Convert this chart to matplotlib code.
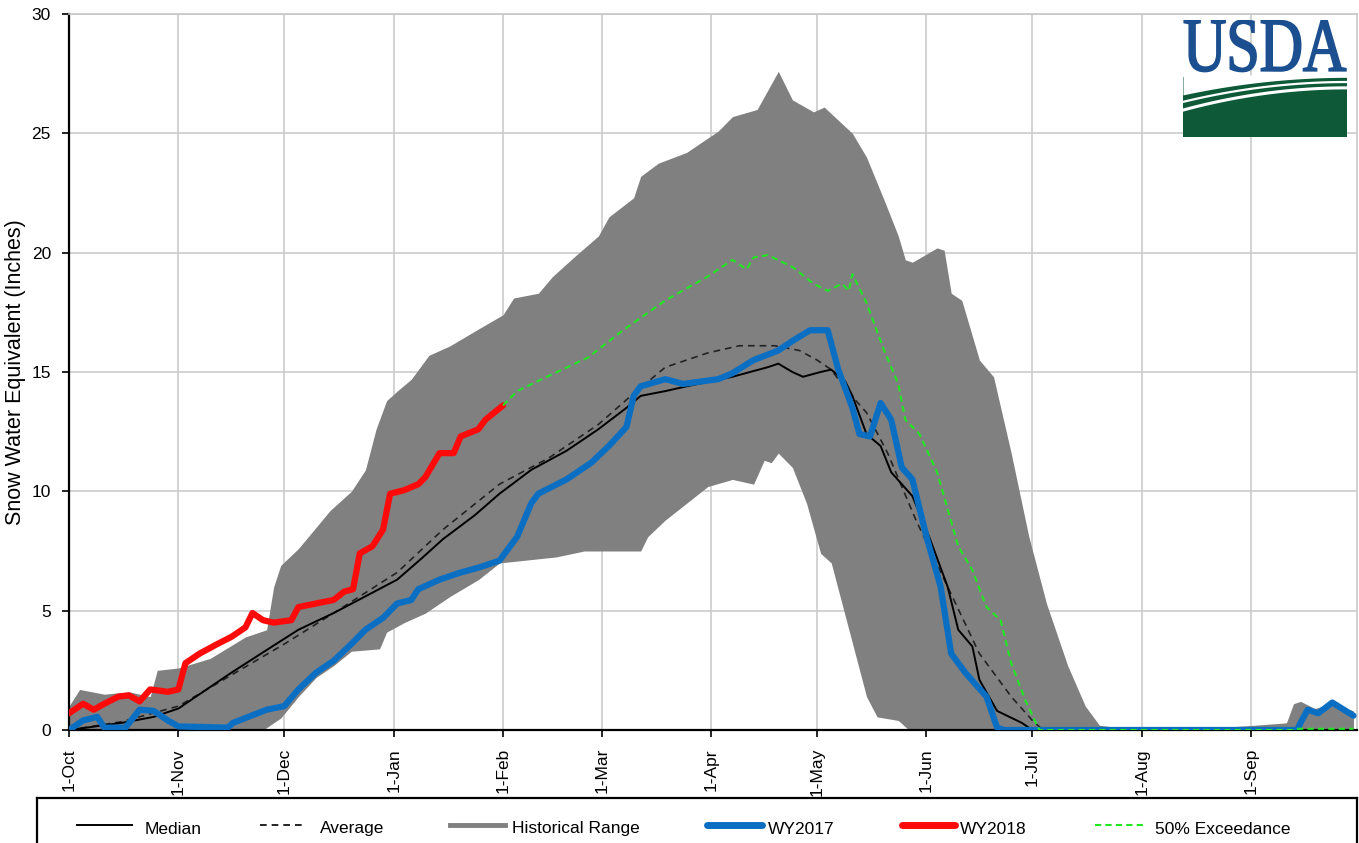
import numpy as np
import matplotlib
matplotlib.use("Agg")
import matplotlib.pyplot as plt
from matplotlib.textpath import TextPath
from matplotlib.patches import PathPatch, Rectangle
from matplotlib.font_manager import FontProperties
from matplotlib.transforms import Affine2D

plt.rcParams['font.family'] = ['Liberation Sans', 'DejaVu Sans']

# day 0 = 1-Oct, water year of 365 days
month_days = [0, 31, 61, 92, 123, 151, 182, 212, 243, 273, 304, 335]
month_labels = ['1-Oct', '1-Nov', '1-Dec', '1-Jan', '1-Feb', '1-Mar',
                '1-Apr', '1-May', '1-Jun', '1-Jul', '1-Aug', '1-Sep']

# historical range, upper edge
hi_days = [0, 3, 10, 17, 23, 25, 31, 40, 50, 56, 58, 60, 65, 74, 80, 84, 87, 90,
           93, 97, 102, 108, 116, 123, 126, 133, 137, 143, 150, 153, 160, 162,
           167, 175, 184, 188, 195, 201, 205, 211, 214, 222, 226, 231, 235, 237,
           239, 246, 248, 250, 253, 258, 262, 267, 272, 277, 283, 288, 292, 300,
           320, 336, 345, 347, 349, 353, 358, 364]
hi_vals = [1.0, 1.7, 1.5, 1.6, 1.4, 2.5, 2.6, 3.0, 3.9, 4.2, 6.0, 6.9, 7.6, 9.2,
           10.0, 10.9, 12.6, 13.8, 14.2, 14.7, 15.7, 16.1, 16.8, 17.4, 18.1,
           18.3, 19.0, 19.8, 20.7, 21.5, 22.3, 23.2, 23.75, 24.2, 25.1, 25.7,
           26.0, 27.6, 26.4, 25.9, 26.1, 25.0, 24.0, 22.2, 20.7, 19.7, 19.6,
           20.2, 20.1, 18.3, 18.0, 15.5, 14.8, 11.6, 8.1, 5.3, 2.7, 1.0, 0.2,
           0.05, 0.05, 0.2, 0.3, 1.1, 1.2, 0.9, 1.1, 0.8]

# historical range, lower edge
lo_days = [0, 55, 60, 65, 70, 75, 80, 88, 90, 95, 101, 108, 116, 122, 138, 146,
           162, 164, 169, 175, 181, 188, 194, 197, 199, 201, 205, 209, 213, 216,
           221, 226, 229, 235, 238, 364]
lo_vals = [0.0, 0.0, 0.5, 1.4, 2.2, 2.7, 3.3, 3.4, 4.1, 4.5, 4.9, 5.6, 6.3, 7.0,
           7.25, 7.5, 7.5, 8.1, 8.8, 9.5, 10.2, 10.5, 10.3, 11.3, 11.2, 11.6,
           11.0, 9.5, 7.4, 7.0, 4.2, 1.4, 0.55, 0.4, 0.0, 0.0]

median_days = [0, 15, 24, 31, 37, 46, 56, 65, 75, 84, 93, 100, 106, 115, 122,
               131, 141, 150, 158, 162, 169, 175, 188, 198, 201, 205, 208, 213,
               216, 220, 222, 226, 230, 233, 239, 244, 249, 252, 256, 258, 263,
               270, 273]
median_vals = [0.0, 0.3, 0.55, 0.9, 1.5, 2.4, 3.35, 4.2, 4.9, 5.6, 6.3, 7.2,
               8.0, 9.0, 9.9, 10.9, 11.7, 12.6, 13.5, 14.0, 14.2, 14.4, 14.8,
               15.2, 15.35, 15.0, 14.8, 15.0, 15.1, 14.6, 14.0, 12.4, 11.9,
               10.8, 9.8, 8.0, 6.0, 4.2, 3.5, 2.1, 0.8, 0.3, 0.0]

average_days = [0, 15, 31, 46, 61, 75, 93, 106, 122, 136, 150, 160, 169, 181,
                190, 200, 207, 212, 216, 220, 226, 232, 240, 249, 258, 267, 273,
                276]
average_vals = [0.0, 0.35, 1.0, 2.3, 3.6, 4.9, 6.6, 8.4, 10.3, 11.4, 12.8,
                14.1, 15.2, 15.8, 16.1, 16.1, 15.9, 15.5, 15.1, 14.3, 13.3, 11.6,
                8.8, 6.0, 3.2, 1.4, 0.4, 0.0]

wy2017_days = [0, 4, 8, 10, 16, 20, 24, 28, 31, 45, 46.5, 56, 61, 65, 70, 75,
               80, 84, 89, 93, 97, 99, 105, 111, 116, 122, 127, 131, 133, 141,
               148, 153, 158, 160, 162, 169, 174, 184, 188, 194, 201, 205, 210,
               215, 218, 222, 224, 227, 230, 233, 236, 239, 243, 247, 250, 254,
               260, 263, 265, 348, 349, 351, 354, 358, 364]
wy2017_vals = [0.0, 0.4, 0.55, 0.1, 0.1, 0.85, 0.8, 0.4, 0.15, 0.1, 0.3, 0.85,
               1.0, 1.7, 2.4, 2.9, 3.6, 4.2, 4.7, 5.3, 5.45, 5.9, 6.3, 6.6, 6.8,
               7.1, 8.1, 9.5, 9.9, 10.5, 11.2, 11.9, 12.7, 14.0, 14.4, 14.7,
               14.5, 14.7, 14.95, 15.5, 15.9, 16.3, 16.75, 16.75, 15.1, 13.5,
               12.4, 12.3, 13.7, 13.0, 11.0, 10.5, 8.1, 6.0, 3.2, 2.4, 1.4, 0.1,
               0.0, 0.0, 0.3, 0.85, 0.7, 1.15, 0.6]

wy2018_days = [0, 4, 7, 10, 14, 17, 20, 23, 28, 31, 33, 37, 42, 46, 50, 52, 55,
               58, 63, 65, 70, 75, 78, 80.5, 82.4, 86, 89, 91, 95, 99, 101, 105,
               109, 111, 116, 118, 123]
wy2018_vals = [0.7, 1.1, 0.85, 1.1, 1.4, 1.45, 1.2, 1.7, 1.6, 1.7, 2.8, 3.2,
               3.6, 3.9, 4.3, 4.9, 4.6, 4.5, 4.6, 5.15, 5.3, 5.45, 5.8, 5.9, 7.4,
               7.7, 8.4, 9.9, 10.05, 10.3, 10.6, 11.6, 11.6, 12.3, 12.6, 13.0,
               13.6]

exceed_days = [123, 127, 134, 147, 157, 169, 181, 188, 192, 194, 198, 205, 211,
               215, 219, 221, 222, 226, 231, 235, 237, 241, 246, 252, 256, 260,
               264, 267, 271, 274, 275, 347, 348, 364]
exceed_vals = [13.6, 14.2, 14.7, 15.6, 16.75, 18.0, 19.0, 19.7, 19.3, 19.8,
               19.9, 19.4, 18.7, 18.4, 18.7, 18.4, 19.1, 17.9, 15.9, 14.5, 13.0,
               12.4, 10.8, 7.7, 6.7, 5.15, 4.6, 2.8, 1.25, 0.3, 0.0, 0.0, 0.05,
               0.05]

BLUE = '#0a6fc2'
RED = '#ff0a0a'
GREEN = '#22e622'
GRAY = '#808080'

W, H = 1359, 843
fig = plt.figure(figsize=(W / 100, H / 100), dpi=100)
ax = fig.add_axes([69 / W, (H - 730) / H, (1357 - 69) / W, (730 - 14) / H])

# historical range band (upper and lower edges on a shared day grid)
grid_days = np.union1d(hi_days, lo_days)
band_hi = np.interp(grid_days, hi_days, hi_vals)
band_lo = np.interp(grid_days, lo_days, lo_vals)
ax.fill_between(grid_days, band_lo, band_hi, color=GRAY, lw=0, zorder=2)

ax.plot(average_days, average_vals, color='#222222', lw=1.2, ls=(0, (4, 3)), zorder=3)
ax.plot(median_days, median_vals, color='black', lw=1.4, zorder=3)
ax.plot(wy2017_days, wy2017_vals, color=BLUE, lw=4.5, solid_joinstyle='round',
        solid_capstyle='round', zorder=4)
ax.plot(wy2018_days, wy2018_vals, color=RED, lw=4.5, solid_joinstyle='round',
        solid_capstyle='round', zorder=5)
ax.plot(exceed_days, exceed_vals, color=GREEN, lw=1.5, ls=(0, (3, 2)), zorder=6)

ax.set_xlim(0, 365)
ax.set_ylim(0, 30)
ax.set_xticks(month_days)
ax.set_xticklabels(month_labels, rotation=90, fontsize=12.5)
ax.set_yticks(range(0, 31, 5))
ax.tick_params(axis='y', labelsize=12.5, length=5, width=1.2, pad=8)
ax.tick_params(axis='x', length=5, width=1.2, pad=8)
ax.grid(True, color='#cccccc', lw=1.2, zorder=0)
ax.set_axisbelow(True)
for s in ['left', 'bottom']:
    ax.spines[s].set_color('black')
    ax.spines[s].set_linewidth(1.6)
for s in ['top', 'right']:
    ax.spines[s].set_color('#c8c8c8')
    ax.spines[s].set_linewidth(1.2)
ax.set_ylabel('Snow Water Equivalent (Inches)', fontsize=15.5)
ax.yaxis.set_label_coords(-0.0335, 0.5)

# legend box along the bottom
lax = fig.add_axes([37 / W, -10 / H, (1357 - 37) / W, 55 / H])
lax.set_xlim(37, 1357)
lax.set_ylim(853, 798)
lax.set_xticks([])
lax.set_yticks([])
for s in lax.spines.values():
    s.set_color('black')
    s.set_linewidth(1.6)
ly = 829
items = [
    (77, 132, dict(color='black', lw=1.4), 145, 'Median'),
    (260, 305, dict(color='black', lw=1.2, ls=(0, (4, 3))), 320, 'Average'),
    (450, 505, dict(color=GRAY, lw=3.5), 512, 'Historical Range'),
    (707, 762, dict(color=BLUE, lw=5, solid_capstyle='round'), 768, 'WY2017'),
    (902, 955, dict(color=RED, lw=5, solid_capstyle='round'), 960, 'WY2018'),
    (1095, 1147, dict(color=GREEN, lw=1.5, ls=(0, (3, 2))), 1155, '50% Exceedance'),
]
for x0, x1, style, tx, label in items:
    lax.plot([x0, x1], [ly - 4, ly - 4], **style)
    lax.text(tx, ly, label, fontsize=12.5, va='center', ha='left')

# USDA logo
gax = fig.add_axes([1183 / W, (H - 137) / H, 164 / W, 117 / H])
gax.set_xlim(0, 1)
gax.set_ylim(0, 1)
gax.axis('off')
tp = TextPath((0, 0), 'USDA', size=1, prop=FontProperties(family='Liberation Serif'))
bb = tp.get_extents()
tr = Affine2D().translate(-bb.x0, -bb.y0).scale(0.985 / bb.width, 0.44 / bb.height).translate(0.008, 0.56)
gax.add_patch(PathPatch(tr.transform_path(tp), facecolor='#1c4f8f', edgecolor='#1c4f8f', lw=1.3))
gax.add_patch(Rectangle((0, 0), 1, 0.51, color='#0e5a38', lw=0))
xs = np.linspace(0, 1, 80)
bend = 1 - (1 - xs) ** 2
gax.fill_between(xs, 0.36 + 0.15 * bend, 0.53, color='white', lw=0)
gax.plot(xs, 0.23 + 0.19 * bend, color='white', lw=2.2)
gax.plot(xs, 0.30 + 0.17 * bend, color='white', lw=1.6)

fig.savefig('out.png', dpi=100)
